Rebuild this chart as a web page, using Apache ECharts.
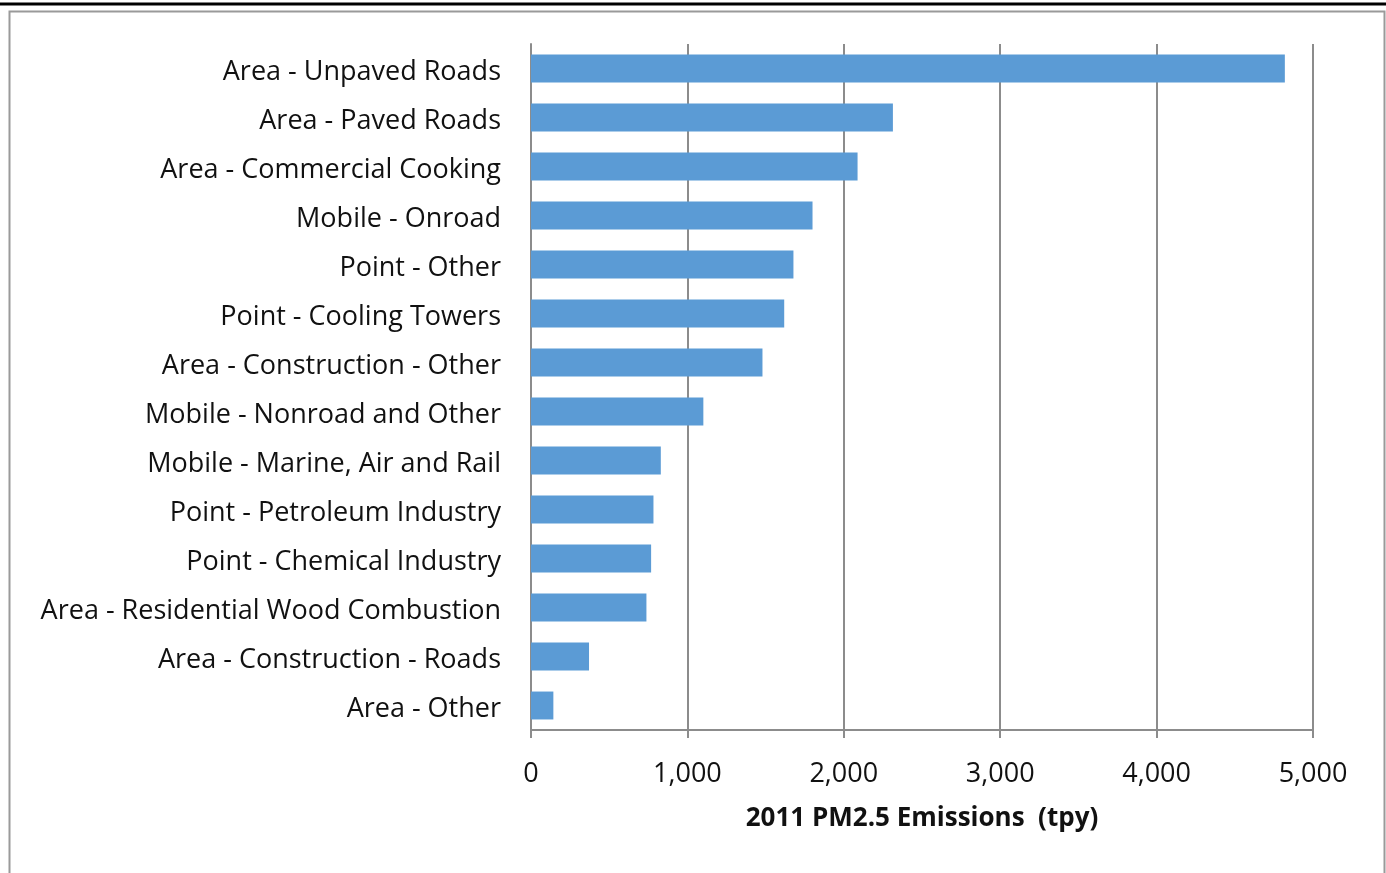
<!DOCTYPE html>
<html lang="en">
<head>
    <meta charset="UTF-8">
    <title>2011 PM2.5 Emissions</title>
    <script src="https://cdn.jsdelivr.net/npm/echarts@6/dist/echarts.min.js"></script>
    <style>
        html, body { margin: 0; padding: 0; background: #fff; }
    </style>
</head>
<body>
    <div id="chart" style="width: 1386px; height: 873px;"></div>

    <script>
        // Categories, top to bottom
        var categories = [
            'Area - Unpaved Roads',
            'Area - Paved Roads',
            'Area - Commercial Cooking',
            'Mobile - Onroad',
            'Point - Other',
            'Point - Cooling Towers',
            'Area - Construction - Other',
            'Mobile - Nonroad and Other',
            'Mobile - Marine, Air and Rail',
            'Point - Petroleum Industry',
            'Point - Chemical Industry',
            'Area - Residential Wood Combustion',
            'Area - Construction - Roads',
            'Area - Other'
        ];

        // 2011 PM2.5 emissions (tpy)
        var emissions = [4820, 2314, 2088, 1800, 1678, 1619, 1480, 1102, 830, 783, 768, 738, 371, 143];

        var xTicks = [0, 1000, 2000, 3000, 4000, 5000];

        var chart = echarts.init(document.getElementById('chart'));
        var font = '"Open Sans", Lato, sans-serif';
        var gray = '#8c8c8c';

        chart.setOption({
            animation: false,
            textStyle: { fontFamily: font },
            grid: { left: 531, right: 73, top: 44, bottom: 143, containLabel: false },
            // page frame
            graphic: [
                { type: 'line', shape: { x1: 0, y1: 4, x2: 1386, y2: 4 }, style: { stroke: '#000', lineWidth: 3 } },
                { type: 'polyline', shape: { points: [[9.5, 873], [9.5, 11.5], [1384.5, 11.5], [1384.5, 873]] },
                  style: { stroke: '#9a9a9a', lineWidth: 2, fill: null } }
            ],
            xAxis: {
                type: 'value',
                min: xTicks[0],
                max: xTicks[xTicks.length - 1],
                interval: 1000,
                name: '2011 PM2.5 Emissions  (tpy)',
                nameLocation: 'middle',
                nameGap: 76,
                nameTextStyle: { fontFamily: font, fontSize: 26, fontWeight: 'bold', color: '#111' },
                axisLine: { show: true, lineStyle: { color: gray, width: 2 } },
                axisTick: { show: true, length: 8, lineStyle: { color: gray, width: 2 } },
                axisLabel: {
                    fontSize: 27, color: '#111', margin: 31,
                    formatter: function (v) { return v.toLocaleString('en-US'); }
                },
                splitLine: { show: true, lineStyle: { color: gray, width: 2 } }
            },
            yAxis: {
                type: 'category',
                data: categories,
                inverse: true,
                axisLine: { show: true, lineStyle: { color: gray, width: 2 } },
                axisTick: { show: false },
                axisLabel: {
                    margin: 30,
                    formatter: function (v) { return '{t|' + v + '}'; },
                    rich: { t: { fontFamily: font, fontSize: 27, color: '#111', padding: [8, 0, 0, 0] } }
                }
            },
            series: [{
                type: 'bar',
                data: emissions,
                barCategoryGap: '43%',
                itemStyle: { color: '#5b9bd5' }
            }]
        });
    </script>
</body>
</html>
